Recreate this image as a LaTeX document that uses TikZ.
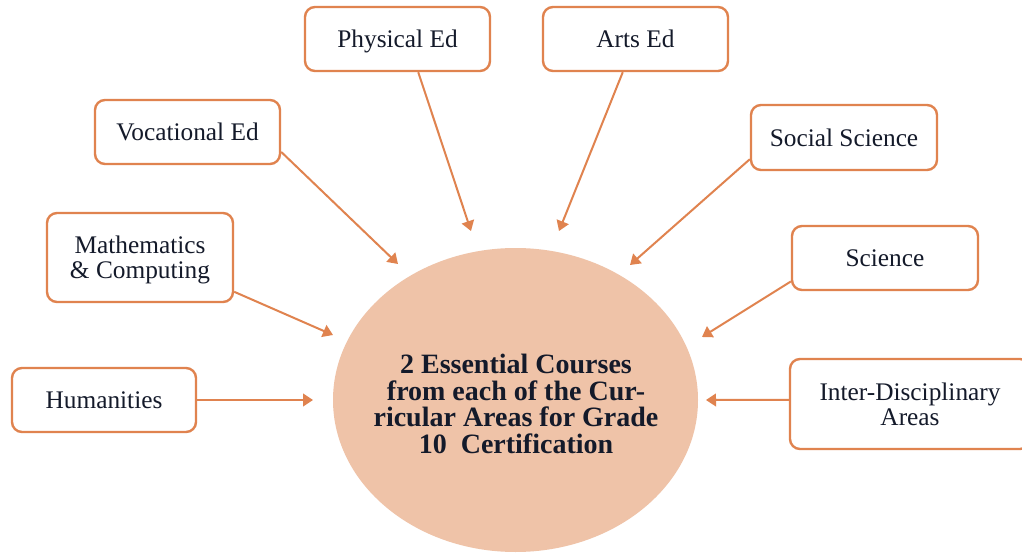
\documentclass[tikz,border=0pt]{standalone}
\usepackage{fontspec}
\setmainfont{Liberation Serif}
\usetikzlibrary{arrows.meta,shapes.geometric}
\definecolor{edge}{HTML}{E0834F}
\definecolor{corefill}{HTML}{EFC3A8}
\definecolor{ink}{HTML}{141A2A}
\tikzset{
  area/.style={draw=edge, line width=1.8pt, rounded corners=7.5pt, fill=white,
    text=ink, align=center, inner sep=0pt, text depth=0pt,
    font=\fontsize{19}{18.5}\selectfont},
  core/.style={ellipse, fill=corefill, inner sep=0pt},
  coretext/.style={text=ink, align=center, inner sep=0pt,
    font=\fontsize{21}{20}\selectfont\bfseries},
  feed/.style={draw=edge, line width=1.5pt,
    -{Triangle[length=7.5pt,width=9.5pt]}},
}
\begin{document}
\begin{tikzpicture}[x=0.75pt, y=-0.75pt]
  \clip (0,0) rectangle (1022,553);
  \fill[white] (0,0) rectangle (1022,553);

  % centre: the certification requirement
  \node[core, minimum width=273.75pt, minimum height=228pt] (core) at (515.5,400) {};
  \node[coretext] (coretxt) at (516,404)
    {2 Essential Courses\\from each of the Cur-\\ricular Areas for Grade\\10\ \ Certification};

  % curricular areas
  \node[area, minimum width=138pt, minimum height=48pt]   (hum)   at (104,400)   {Humanities};
  \node[area, minimum width=139.5pt, minimum height=66.75pt] (math) at (140,257.5) {Mathematics\\\& Computing};
  \node[area, minimum width=138.75pt, minimum height=48pt] (voc)  at (187.5,132) {Vocational Ed};
  \node[area, minimum width=138.75pt, minimum height=48pt] (phys) at (397.5,39)  {Physical Ed};
  \node[area, minimum width=138.75pt, minimum height=48pt] (arts) at (635.5,39)  {Arts Ed};
  \node[area, minimum width=139.5pt, minimum height=48.75pt] (soc) at (844,137.5) {Social Science};
  \node[area, minimum width=139.5pt, minimum height=48pt]  (sci)  at (885,258)   {Science};
  \node[area, minimum width=180pt, minimum height=67.5pt]  (inter) at (910,404)  {Inter-Disciplinary\\Areas};

  % arrow tips, short of the centre ellipse
  \coordinate (tHum)   at (313,400);
  \coordinate (tMath)  at (333,335);
  \coordinate (tVoc)   at (398,264);
  \coordinate (tPhys)  at (471,231);
  \coordinate (tArts)  at (559,231);
  \coordinate (tSoc)   at (630,265);
  \coordinate (tSci)   at (702,337);
  \coordinate (tInter) at (706,400);

  \draw[feed] (hum.east)   -- (tHum);
  \draw[feed] (math.-20)   -- (tMath);
  \draw[feed] (voc.-12)    -- (tVoc);
  \draw[feed] (phys.-58.6) -- (tPhys);
  \draw[feed] (arts.-111)  -- (tArts);
  \draw[feed] (soc.193.5)  -- (tSoc);
  \draw[feed] (sci.194.5)  -- (tSci);
  \draw[feed] (inter.178.1) -- (tInter);
\end{tikzpicture}
\end{document}
